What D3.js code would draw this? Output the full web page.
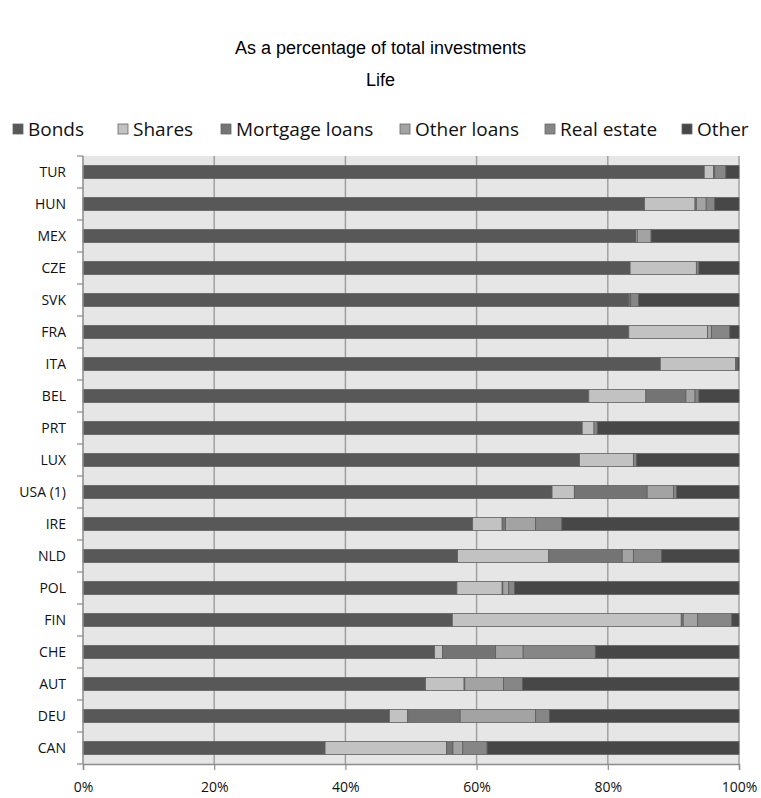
<!DOCTYPE html>
<html>
<head>
<meta charset="utf-8">
<style>
body { margin: 0; background: #fff; }
text { font-family: "Open Sans", Arial, sans-serif; }
.title { font-family: "Liberation Sans", Arial, sans-serif; font-size: 18px; }
</style>
</head>
<body>
<script src="https://cdn.jsdelivr.net/npm/d3@7"></script>
<script>
var width = 761, height = 798;

var countries = ["TUR","HUN","MEX","CZE","SVK","FRA","ITA","BEL","PRT","LUX","USA (1)","IRE","NLD","POL","FIN","CHE","AUT","DEU","CAN"];
var series = ["Bonds","Shares","Mortgage loans","Other loans","Real estate","Other"];
var colors = ["#585858","#c2c2c2","#747474","#a3a3a3","#868686","#474747"];

// shares in % per country, same order as countries
var bonds     = [94.7,85.6,84.3,83.4,83.2,83.2,88.0,77.1,76.1,75.7,71.5,59.4,57.1,57.0,56.3,53.6,52.2,46.7,36.9];
var shares    = [ 1.4, 7.7, 0.2,10.1, 0.0,12.0,11.5, 8.7, 1.8, 8.2, 3.4, 4.5,13.9, 6.9,34.9, 1.2, 5.9, 2.8,18.5];
var mortgage  = [ 0.2, 0.2, 0.0, 0.0, 0.3, 0.0, 0.1, 6.1, 0.0, 0.0,11.1, 0.5,11.2, 0.1, 0.3, 8.1, 0.1, 8.0, 1.0];
var otherLoan = [ 0.0, 1.5, 2.1, 0.0, 0.0, 0.6, 0.0, 1.4, 0.0, 0.0, 4.0, 4.6, 1.7, 0.9, 2.2, 4.2, 5.9,11.5, 1.5];
var realEst   = [ 1.7, 1.3, 0.0, 0.4, 1.2, 2.8, 0.2, 0.6, 0.5, 0.5, 0.5, 4.0, 4.3, 0.9, 5.2,11.0, 2.9, 2.1, 3.7];
var other     = [ 2.0, 3.7,13.4, 6.1,15.3, 1.4, 0.2, 6.1,21.6,15.6, 9.5,27.0,11.8,34.2, 1.1,21.9,33.0,28.9,38.4];

var table = countries.map(function(c, i) {
  return { country: c, "Bonds": bonds[i], "Shares": shares[i], "Mortgage loans": mortgage[i],
           "Other loans": otherLoan[i], "Real estate": realEst[i], "Other": other[i] };
});

var margin = { top: 156, left: 83, right: 22, bottom: 34 };

var svg = d3.select("body").append("svg")
  .attr("width", width).attr("height", height);

svg.append("text").attr("class", "title")
  .attr("x", width / 2).attr("y", 54).attr("text-anchor", "middle")
  .text("As a percentage of total investments");
svg.append("text").attr("class", "title")
  .attr("x", width / 2).attr("y", 86).attr("text-anchor", "middle")
  .text("Life");

var x = d3.scaleLinear().domain([0, 100])
  .range([margin.left, width - margin.right]);
var y = d3.scaleBand().domain(countries)
  .range([margin.top, height - margin.bottom]).paddingInner(0.6).paddingOuter(0.3);
var yBand = d3.scaleBand().domain(countries)
  .range([margin.top, height - margin.bottom]);

// plot background
svg.append("rect")
  .attr("x", x(0)).attr("y", margin.top)
  .attr("width", x(100) - x(0)).attr("height", height - margin.bottom - margin.top)
  .attr("fill", "#e6e6e6");

// vertical gridlines
svg.append("g").selectAll("line")
  .data([20, 40, 60, 80, 100])
  .enter().append("line")
  .attr("x1", function(d) { return x(d); }).attr("x2", function(d) { return x(d); })
  .attr("y1", margin.top).attr("y2", height - margin.bottom)
  .attr("stroke", "#a0a0a0").attr("stroke-width", 1.5);

var stack = d3.stack().keys(series);
var layers = stack(table);

svg.append("g").selectAll("g")
  .data(layers)
  .enter().append("g")
  .attr("fill", function(d, i) { return colors[i]; })
  .selectAll("rect")
  .data(function(d) { return d; })
  .enter().append("rect")
  .filter(function(d) { return d[1] - d[0] > 0; })
  .attr("x", function(d) { return x(d[0]); })
  .attr("width", function(d) { return x(d[1]) - x(d[0]); })
  .attr("y", function(d) { return y(d.data.country); })
  .attr("height", y.bandwidth())
  .attr("stroke", "#5e5e5e").attr("stroke-width", 0.8);

// y axis
var yAxis = svg.append("g")
  .attr("transform", "translate(" + x(0) + ",0)");
yAxis.append("line")
  .attr("x1", 0).attr("x2", 0)
  .attr("y1", margin.top).attr("y2", height - margin.bottom)
  .attr("stroke", "#8c8c8c").attr("stroke-width", 1.5);
yAxis.selectAll(".tk")
  .data(countries.concat(["end"]))
  .enter().append("line")
  .attr("x1", -6).attr("x2", 0)
  .attr("y1", function(d, i) { return margin.top + i * yBand.step(); })
  .attr("y2", function(d, i) { return margin.top + i * yBand.step(); })
  .attr("stroke", "#8c8c8c").attr("stroke-width", 1.2);
yAxis.selectAll("text")
  .data(countries)
  .enter().append("text")
  .attr("x", -17)
  .attr("y", function(d) { return yBand(d) + yBand.bandwidth() / 2; })
  .attr("dy", "0.35em")
  .attr("text-anchor", "end")
  .attr("font-size", 14)
  .attr("fill", "#111")
  .text(function(d) { return d; });

// x axis
var xAxis = d3.axisBottom(x)
  .tickValues([0, 20, 40, 60, 80, 100])
  .tickFormat(function(d) { return d + "%"; })
  .tickSize(6).tickPadding(12);
var gx = svg.append("g")
  .attr("transform", "translate(0," + (height - margin.bottom) + ")")
  .call(xAxis);
gx.select(".domain").attr("stroke", "#8c8c8c").attr("stroke-width", 1.5);
gx.selectAll(".tick line").attr("stroke", "#8c8c8c").attr("stroke-width", 1.2);
gx.selectAll(".tick text")
  .attr("font-family", "'Open Sans', Arial, sans-serif")
  .attr("font-size", 14).attr("fill", "#111");

// legend
var legendX = [13, 118, 221, 400, 545, 682];
var legend = svg.append("g").selectAll("g")
  .data(series)
  .enter().append("g")
  .attr("transform", function(d, i) { return "translate(" + legendX[i] + ",129)"; });
legend.append("rect")
  .attr("x", 0).attr("y", -5).attr("width", 10).attr("height", 10)
  .attr("fill", function(d, i) { return colors[i]; })
  .attr("stroke", "#666").attr("stroke-width", 0.8);
legend.append("text")
  .attr("x", 15).attr("dy", "0.36em")
  .attr("font-size", 19).attr("fill", "#111")
  .text(function(d) { return d; });
</script>
</body>
</html>
